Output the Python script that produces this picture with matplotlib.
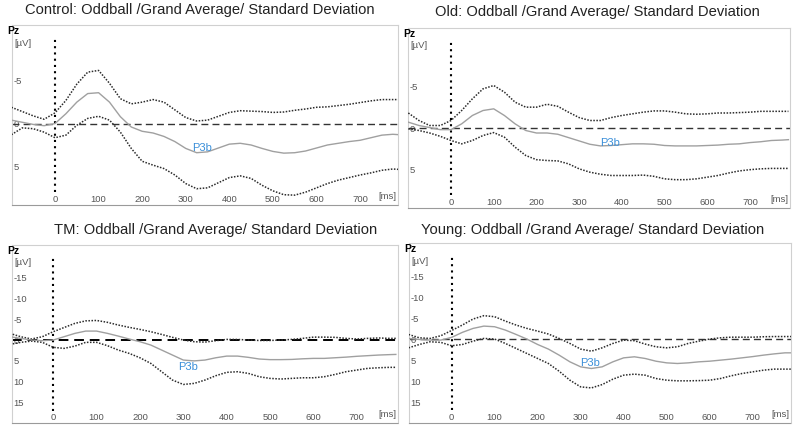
import matplotlib
matplotlib.use('Agg')
import matplotlib.pyplot as plt

# time axis [ms]
t_ms = [-100, -75, -50, -25, 0, 25, 50, 75, 100, 125, 150, 175, 200, 225, 250, 275, 300,
        325, 350, 375, 400, 425, 450, 475, 500, 525, 550, 575, 600, 625, 650, 675, 700,
        725, 750, 775, 790]

# Control [uV]
ctrl_upper = [-1.9, -1.4, -0.9, -0.5, -1.25, -2.7, -4.6, -6.0, -6.2, -4.7, -2.9, -2.3, -2.5,
              -2.8, -2.5, -1.6, -0.7, -0.3, -0.4, -0.85, -1.3, -1.5, -1.45, -1.4, -1.3,
              -1.35, -1.55, -1.7, -1.9, -1.95, -2.1, -2.25, -2.45, -2.65, -2.8, -2.8, -2.8]
ctrl_mean = [-0.4, -0.15, 0.1, 0.25, 0.0, -1.15, -2.5, -3.5, -3.6, -2.5, -0.8, 0.4, 0.9,
             1.1, 1.5, 2.1, 2.9, 3.4, 3.3, 2.85, 2.4, 2.3, 2.5, 2.9, 3.25,
             3.45, 3.4, 3.2, 2.85, 2.5, 2.3, 2.1, 1.95, 1.65, 1.35, 1.25, 1.3]
ctrl_lower = [1.3, 0.5, 0.6, 1.0, 1.65, 1.35, 0.2, -0.6, -0.85, -0.4, 1.0, 2.9, 4.4,
              4.85, 5.25, 6.0, 7.0, 7.6, 7.5, 6.9, 6.3, 6.1, 6.4, 7.2, 7.85,
              8.3, 8.35, 8.0, 7.5, 7.0, 6.6, 6.3, 6.0, 5.75, 5.45, 5.3, 5.35]

# Old
old_upper = [-1.8, -0.9, -0.3, -0.3, -0.9, -2.1, -3.5, -4.7, -5.1, -4.3, -3.1, -2.5, -2.5,
             -2.85, -2.6, -1.9, -1.25, -0.9, -0.9, -1.25, -1.5, -1.7, -1.9, -2.05, -2.05,
             -1.9, -1.7, -1.65, -1.7, -1.8, -1.8, -1.85, -1.9, -2.0, -2.0, -2.0, -2.0]
old_mean = [-0.7, -0.3, -0.05, 0.2, 0.2, -0.5, -1.5, -2.1, -2.3, -1.5, -0.5, 0.3, 0.6,
            0.6, 0.75, 1.15, 1.55, 1.95, 2.15, 2.1, 2.0, 1.9, 1.9, 1.95, 2.1,
            2.15, 2.15, 2.15, 2.1, 2.05, 1.95, 1.9, 1.75, 1.65, 1.5, 1.45, 1.4]
old_lower = [0.1, 0.3, 0.6, 1.0, 1.5, 1.9, 1.5, 0.9, 0.55, 1.1, 2.3, 3.3, 3.8,
             3.9, 3.95, 4.3, 4.9, 5.3, 5.55, 5.7, 5.7, 5.7, 5.65, 5.8, 6.1,
             6.2, 6.2, 6.1, 5.9, 5.7, 5.4, 5.15, 5.0, 4.9, 4.85, 4.85, 4.85]

# TM
tm_upper = [-1.6, -0.8, -0.25, -0.8, -2.0, -3.0, -4.0, -4.6, -4.7, -4.25, -3.6, -3.05, -2.55,
            -2.0, -1.35, -0.65, 0.0, 0.4, 0.5, 0.15, -0.15, -0.15, 0.0, 0.1, 0.1,
            0.0, -0.15, -0.4, -0.7, -0.7, -0.65, -0.4, -0.25, -0.4, -0.5, -0.4, -0.4]
tm_mean = [-0.8, -0.4, 0.0, 0.15, 0.0, -0.8, -1.6, -2.15, -2.15, -1.6, -0.95, -0.25, 0.4,
           1.2, 2.4, 3.6, 4.8, 5.0, 4.8, 4.25, 3.85, 3.85, 4.15, 4.55, 4.7,
           4.7, 4.65, 4.5, 4.4, 4.4, 4.25, 4.1, 3.9, 3.75, 3.6, 3.5, 3.45]
tm_lower = [1.05, 0.55, 0.25, 0.55, 1.75, 2.0, 1.45, 0.55, 0.55, 1.35, 2.4, 3.2, 4.25,
            5.6, 7.6, 9.6, 10.65, 10.4, 9.6, 8.55, 7.75, 7.6, 8.0, 8.8, 9.2,
            9.35, 9.2, 9.05, 9.05, 8.8, 8.25, 7.6, 7.2, 6.8, 6.65, 6.55, 6.55]

# Young
young_upper = [-1.2, -0.4, -0.25, -0.9, -2.15, -3.45, -4.9, -5.7, -5.45, -4.4, -3.45, -2.65, -2.0,
               -1.3, -0.25, 0.95, 2.3, 2.8, 2.0, 0.95, 0.15, 0.3, 1.1, 1.75, 2.0,
               1.75, 0.95, 0.4, -0.1, -0.4, -0.55, -0.55, -0.55, -0.65, -0.7, -0.7, -0.7]
young_mean = [-0.25, 0.0, 0.15, 0.15, -0.5, -1.7, -2.65, -3.2, -3.05, -2.25, -1.2, -0.1, 1.2,
              2.3, 3.75, 5.35, 6.55, 6.95, 6.55, 5.35, 4.4, 4.15, 4.55, 5.2, 5.6,
              5.75, 5.6, 5.35, 5.2, 4.95, 4.7, 4.4, 4.1, 3.75, 3.45, 3.2, 3.2]
young_lower = [2.0, 1.2, 0.55, 0.7, 1.5, 1.2, 0.4, -0.25, -0.1, 0.95, 2.15, 3.35, 4.55,
               5.75, 7.6, 9.75, 11.35, 11.6, 10.8, 9.5, 8.55, 8.3, 8.55, 9.35, 9.75,
               9.9, 9.9, 9.85, 9.75, 9.35, 8.7, 8.15, 7.75, 7.35, 7.1, 7.1, 7.1]

groups = ['Control', 'Old', 'TM', 'Young']
x_ticks = [0, 100, 200, 300, 400, 500, 600, 700]
y_ticks_small = [-5, 0, 5]
y_ticks_big = [-15, -10, -5, 0, 5, 10, 15]
p3b_pos = [(314, 2.8), (349, 1.8), (288, 6.4), (298, 5.7)]

plt.rcParams['font.family'] = ['Liberation Sans', 'DejaVu Sans']
plt.rcParams['axes.unicode_minus'] = False

W, H = 797, 433
fig = plt.figure(figsize=(W / 100, H / 100), dpi=100)

# panel boxes in pixels: left, top, right, bottom
boxes = [(12, 25, 398, 205), (408, 28, 790, 208), (12, 245, 398, 423), (409, 243, 791, 423)]
xlims = [(-98.7, 787), (-100.7, 793.7), (-95, 795), (-99, 789)]
ylims = [(9.5, -11.5), (9.6, -12.0), (19.9, -22.8), (20.0, -23.1)]
title_pos = [(200, 10), (597, 12), (216, 230), (593, 230)]

data = [(ctrl_upper, ctrl_mean, ctrl_lower),
        (old_upper, old_mean, old_lower),
        (tm_upper, tm_mean, tm_lower),
        (young_upper, young_mean, young_lower)]

for i in range(4):
    l, t, r, b = boxes[i]
    ax = fig.add_axes([l / W, 1 - b / H, (r - l) / W, (b - t) / H])
    up, mn, lo = data[i]

    ax.axhline(0, color='black' if i == 2 else '#333333', lw=1.4 if i == 2 else 1.0,
               ls=(0, (5, 3)), zorder=2)
    ax.axvline(0, ymin=0.07, ymax=0.94, color='black', lw=1.5, ls=(0, (1, 2)), zorder=2)

    ax.plot(t_ms, up, color='#2b2b2b', lw=1.1, ls=(0, (1, 1)), zorder=3)
    ax.plot(t_ms, lo, color='#2b2b2b', lw=1.1, ls=(0, (1, 1)), zorder=3)
    ax.plot(t_ms, mn, color='#a0a0a0', lw=1.0, zorder=3)

    ax.text(p3b_pos[i][0], p3b_pos[i][1], 'P3b', color='#3a8fd9', fontsize=8, va='center',
            zorder=4)

    ax.set_xlim(xlims[i])
    ax.set_ylim(ylims[i])
    ax.set_xticks(x_ticks)
    ax.set_yticks(y_ticks_small if i < 2 else y_ticks_big)
    ax.tick_params(axis='x', length=0, pad=-7, labelsize=6.8, labelcolor='#555555')
    ax.tick_params(axis='y', length=0, pad=-1, labelsize=6.8, labelcolor='#555555')
    for lab in ax.get_yticklabels():
        lab.set_horizontalalignment('left')

    for s in ax.spines.values():
        s.set_color('#d0d0d0')
        s.set_linewidth(0.8)
    ax.spines['bottom'].set_linestyle((0, (1, 1)))
    ax.spines['bottom'].set_color('#9a9a9a')

    ax.text(0.995, 0.045, '[ms]', transform=ax.transAxes, ha='right', va='center',
            fontsize=6.8, color='#555555')
    ax.text(0.006, 0.90, '[\u00b5V]', transform=ax.transAxes, ha='left', va='center',
            fontsize=6.8, color='#555555')
    ax.text(-0.012, 0.965, 'Pz', transform=ax.transAxes, ha='left', va='center',
            fontsize=7.5, fontweight='bold', color='black')

    fig.text(title_pos[i][0] / W, 1 - title_pos[i][1] / H,
             groups[i] + ': Oddball /Grand Average/ Standard Deviation',
             ha='center', va='center', fontsize=10.6, color='#222222')

fig.savefig('out.png', dpi=100, facecolor='white')
